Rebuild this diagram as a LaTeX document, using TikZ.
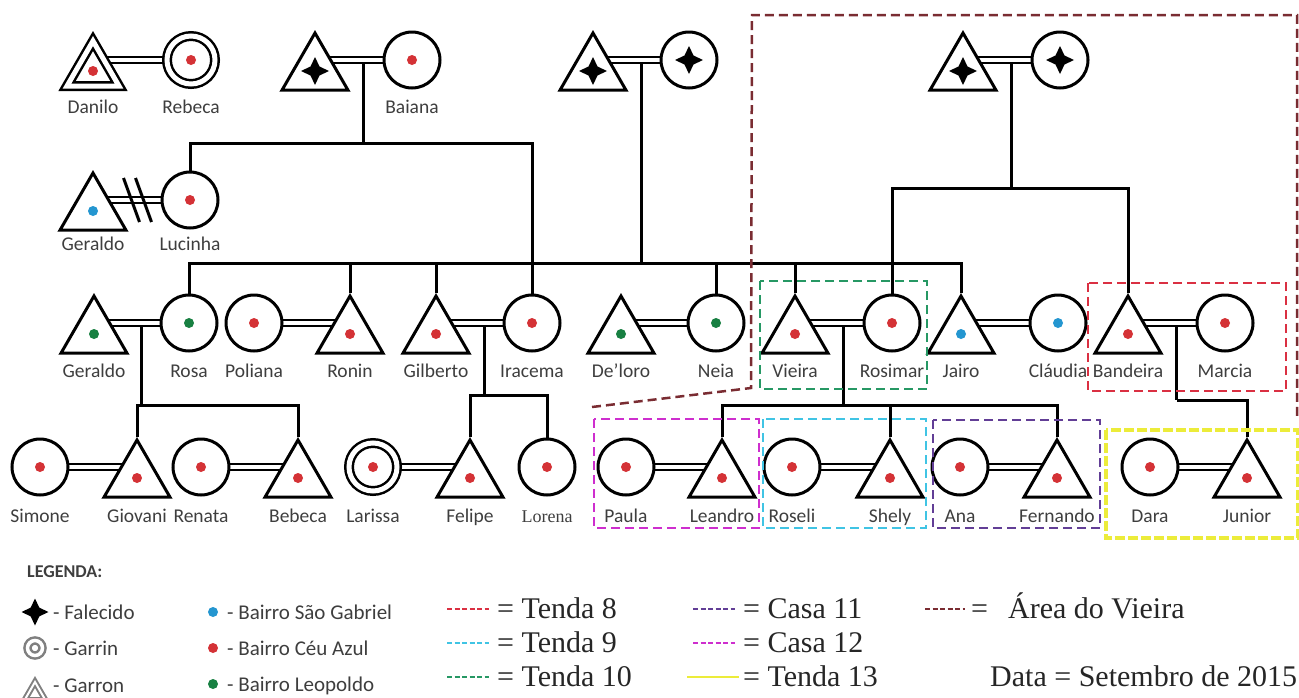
\documentclass[tikz,border=0pt]{standalone}
\usepackage{fontspec}
\setmainfont{Carlito}
\newfontfamily\tms{Liberation Serif}
\usetikzlibrary{shapes.geometric,calc}
\pgfdeclarelayer{background}
\pgfsetlayers{background,main}
\definecolor{cCeu}{RGB}{212,50,54}
\definecolor{cSgab}{RGB}{36,150,208}
\definecolor{cLeo}{RGB}{24,128,66}
\definecolor{cT8}{RGB}{218,48,66}
\definecolor{cT9}{RGB}{64,196,228}
\definecolor{cT10}{RGB}{38,152,100}
\definecolor{cC11}{RGB}{98,62,150}
\definecolor{cC12}{RGB}{206,46,206}
\definecolor{cT13}{RGB}{236,236,58}
\definecolor{cArea}{RGB}{122,44,50}
\definecolor{cTxt}{RGB}{62,62,62}
\tikzset{
  fem/.style={circle,draw,fill=white,line width=3pt,inner sep=0pt,minimum size=56pt},
  mal/.style={regular polygon,regular polygon sides=3,draw,fill=white,line width=3pt,inner sep=0pt,minimum size=76pt,yshift=-11pt},
  garfem/.style={fem,double,double distance=5pt,line width=2.5pt,minimum size=48pt},
  garmal/.style={mal,double,double distance=5pt,line width=2.5pt,minimum size=60pt},
  spot/.style={circle,fill=#1,inner sep=0pt,minimum size=10pt},
  ceu/.style={label={[spot=cCeu]center:}},
  sgab/.style={label={[spot=cSgab]center:}},
  leo/.style={label={[spot=cLeo]center:}},
  fstar/.style={star,star points=4,star point ratio=2.2,fill=black,inner sep=0pt,minimum size=28pt},
  dead/.style={label={[fstar]center:}},
  lbl/.style={font=\fontsize{19.5}{20}\selectfont,text=cTxt,anchor=base,inner sep=0pt},
  leg/.style={font=\fontsize{21}{21}\selectfont,text=cTxt,anchor=base west,inner sep=0pt},
  tleg/.style={font=\tms\fontsize{30}{30}\selectfont,text=black!85,anchor=base west,inner sep=0pt},
  wed/.style={draw=black,double=white,double distance=3.5pt,line width=2.5pt},
  kin/.style={line width=3pt},
  tent/.style={dash pattern=on 9pt off 5pt,line width=2.5pt},
  swatch/.style={dash pattern=on 5pt off 2.5pt,line width=2pt},
}
\begin{document}
\begin{tikzpicture}[x=1pt,y=-1pt]
\useasboundingbox (0,0) rectangle (1299,697);

\node[garmal,ceu] (danilo) at (93,60) {};
\node[garfem,ceu] (rebeca) at (191,60) {};
\node[mal,dead] (avo1) at (315,60) {};
\node[fem,ceu] (baiana) at (412,60) {};
\node[mal,dead] (avo2) at (593,60) {};
\node[fem,dead] (ava2) at (689,60) {};
\node[mal,dead] (avo3) at (963,60) {};
\node[fem,dead] (ava3) at (1060,60) {};
\foreach \nm/\xx/\lab in {danilo/93/Danilo,rebeca/191/Rebeca,baiana/412/Baiana}
  \node[lbl] (\nm-t) at (\xx,113) {\lab};

\node[mal,sgab] (geraldo) at (93,200) {};
\node[fem,ceu] (lucinha) at (190,200) {};
\node[lbl] (geraldo-t) at (93,250) {Geraldo};
\node[lbl] (lucinha-t) at (190,250) {Lucinha};

\foreach \sh/\nm/\xx/\dc/\lab in {mal/geraldob/94/leo/Geraldo, fem/rosa/189/leo/Rosa,
    fem/poliana/254/ceu/Poliana, mal/ronin/350/ceu/Ronin, mal/gilberto/436/ceu/Gilberto,
    fem/iracema/532/ceu/Iracema, mal/deloro/621/leo/De’loro, fem/neia/716/leo/Neia,
    mal/vieira/795/ceu/Vieira, fem/rosimar/892/ceu/Rosimar, mal/jairo/961/sgab/Jairo,
    fem/claudia/1058/sgab/Cláudia, mal/bandeira/1128/ceu/Bandeira, fem/marcia/1225/ceu/Marcia}{
  \node[\sh,\dc] (\nm) at (\xx,323) {};
  \node[lbl] (\nm-t) at (\xx,377) {\lab};
}

\foreach \sh/\nm/\xx/\lab in {fem/simone/40/Simone, mal/giovani/137/Giovani, fem/renata/201/Renata,
    mal/bebeca/298/Bebeca, garfem/larissa/373/Larissa, mal/felipe/470/Felipe,
    fem/lorena/547/{\tms\fontsize{18}{18}\selectfont Lorena}, fem/paula/626/Paula,
    mal/leandro/722/Leandro, fem/roseli/792/Roseli, mal/shely/890/Shely, fem/ana/960/Ana,
    mal/fernando/1057/Fernando, fem/dara/1150/Dara, mal/junior/1247/Junior}{
  \node[\sh,ceu] (\nm) at (\xx,467) {};
  \node[lbl] (\nm-t) at (\xx,522) {\lab};
}

\begin{pgfonlayer}{background}
\foreach \aa/\bb in {danilo/rebeca, avo1/baiana, avo2/ava2, avo3/ava3, geraldo/lucinha,
    geraldob/rosa, ronin/poliana, gilberto/iracema, deloro/neia, vieira/rosimar, jairo/claudia,
    bandeira/marcia, giovani/simone, bebeca/renata, felipe/larissa, leandro/paula, shely/roseli,
    fernando/ana, junior/dara}
  \draw[wed] (\aa.center |- \bb.center) -- (\bb.center);
\foreach \aa/\bb/\ff in {avo1/baiana/fbai, avo2/ava2/fmid, avo3/ava3/fdir, geraldo/lucinha/fger,
    geraldob/rosa/fros, gilberto/iracema/fgil, vieira/rosimar/fvie, bandeira/marcia/fban}
  \coordinate (\ff) at ($(\aa.center |- \bb.center)!.5!(\bb.center)$);
\coordinate (sibs) at (0,263);

\draw[kin] (fbai) ++(0,3) -- ++(0,80) coordinate (fbaih);
\draw[kin] (fbaih) -| (lucinha.north);
\draw[kin] (fbaih) -| (iracema.north);
\draw[kin] (fmid) ++(0,3) -- (fmid |- sibs);
\draw[kin] (rosa.north) -- (rosa.north |- sibs) -- (jairo.north |- sibs) -- (jairo.north);
\foreach \p in {ronin,gilberto,neia,vieira}
  \draw[kin] (\p.north) -- (\p.north |- sibs);
\draw[kin] (fdir) ++(0,3) -- ++(0,125) coordinate (fdirh);
\draw[kin] (fdirh) -| (rosimar.north);
\draw[kin] (fdirh) -| (bandeira.north);
\draw[kin] (fros) ++(0,3) -- ++(0,79) coordinate (frosh);
\foreach \p in {giovani,bebeca}
  \draw[kin] (frosh) -| (\p.north);
\draw[kin] (fgil) ++(0,3) -- ++(0,69) coordinate (fgilh);
\foreach \p in {felipe,lorena}
  \draw[kin] (fgilh) -| (\p.north);
\draw[kin] (fvie) ++(0,3) -- ++(0,79) coordinate (fvieh);
\foreach \p in {leandro,shely,fernando}
  \draw[kin] (fvieh) -| (\p.north);
\draw[kin] (fban) ++(0,3) -- ++(0,74) coordinate (fbanh);
\draw[kin] (fbanh) -| (junior.north);
\end{pgfonlayer}

\draw[kin] (fger) ++(-18,-22) -- ++(16,44);
\draw[kin] (fger) ++(-6,-22) -- ++(16,44);

\draw[tent,cT10] (760,281) rectangle (927,389);
\draw[tent,cT8] (1088,283) rectangle (1286,391);
\draw[tent,cC12] (594,419) rectangle (759,528);
\draw[tent,cT9] (763,419) rectangle (926,528);
\draw[tent,cC11] (933,420) rectangle (1100,528);
\draw[cT13,line width=3.5pt,dash pattern=on 10pt off 3pt] (1106,430) rectangle (1298,538);
\draw[tent,cArea] (592,407) -- (751,388) -- (752,15) -- (1297,15) -- (1297,417);

\node[font=\bfseries\fontsize{18}{18}\selectfont,text=cTxt,anchor=base west,inner sep=0pt] (legenda) at (27,577) {LEGENDA:};
\node[fstar,minimum size=27pt] (kfal) at (35,612) {};
\node[leg] (tfal) at (53,619) {- Falecido};
\node[circle,draw=gray,double,double distance=3.5pt,line width=2.5pt,inner sep=0pt,minimum size=15pt] (kgarrin) at (35,648) {};
\node[leg] (tgarrin) at (53,655) {- Garrin};
\node[regular polygon,regular polygon sides=3,draw=gray,double,double distance=2pt,line width=2pt,inner sep=0pt,minimum size=24pt] (kgarron) at (35,694) {};
\node[leg] (tgarron) at (53,692) {- Garron};
\foreach \cc/\yy/\lab in {cSgab/612/São Gabriel, cCeu/648/Céu Azul, cLeo/684/Leopoldo}{
  \node[spot=\cc] (k\cc) at (213,\yy) {};
  \node[leg] (t\cc) at (227,\yy+7) {- Bairro \lab};
}

\foreach \cc/\xx/\yy/\lab in {cT8/447/618/Tenda 8, cT9/447/652/Tenda 9, cT10/447/686/Tenda 10,
    cC11/693/618/Casa 11, cC12/693/652/Casa 12}{
  \draw[swatch,\cc] (\xx,\yy-9) -- ++(42,0);
  \node[tleg] (s\cc) at (\xx+50,\yy) {= \lab};
}
\draw[cT13,line width=2.5pt] (687,677) -- ++(52,0);
\node[tleg] (sT13) at (743,686) {= Tenda 13};
\draw[swatch,cArea] (925,609) -- ++(40,0);
\node[tleg] (sArea) at (971,618) {=\hspace{20pt}Área do Vieira};
\node[tleg] (data) at (990,686) {Data = Setembro de 2015};
\end{tikzpicture}
\end{document}
